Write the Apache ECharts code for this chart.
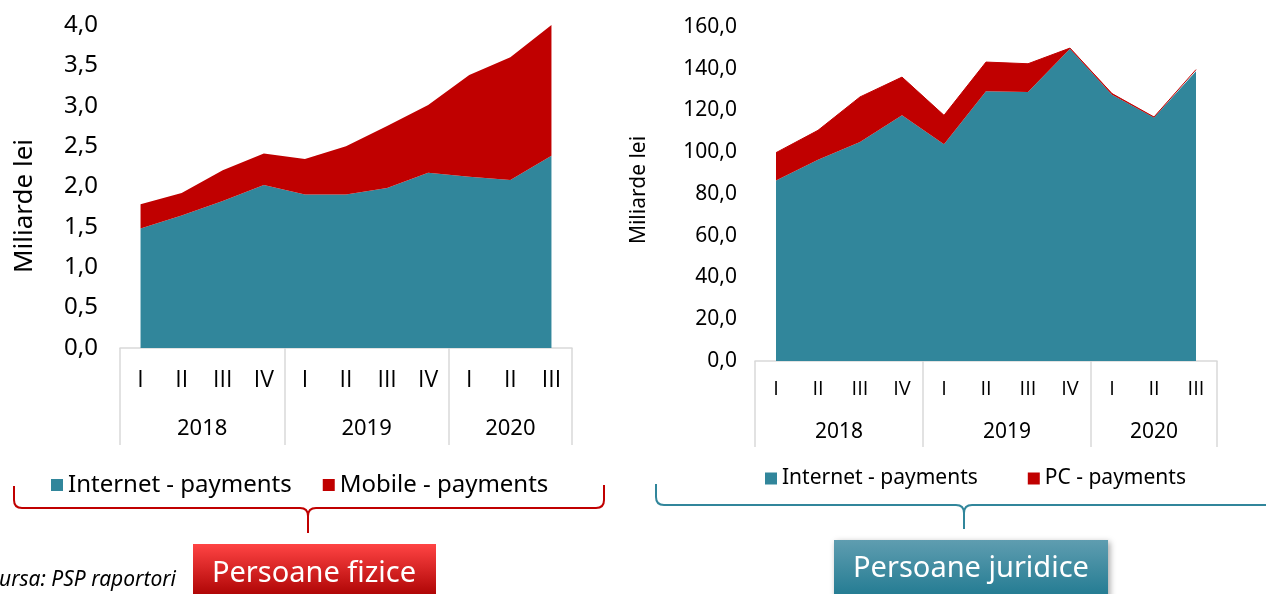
<!DOCTYPE html>
<html><head><meta charset="utf-8">
<script src="https://cdn.jsdelivr.net/npm/echarts@6/dist/echarts.min.js"></script>
<style>html,body{margin:0;padding:0;background:#fff}#c{width:1266px;height:594px}</style>
</head><body><div id="c"></div>
<script>
const quarters = ['I','II','III','IV','I','II','III','IV','I','II','III'];
const years = ['2018','2019','2020'];
const yearCenters = [2, 6, 9.5];
const groupEdges = [0, 4, 8, 11];
// Persoane fizice (Miliarde lei)
const fizInternet = [1.48,1.64,1.82,2.02,1.90,1.90,1.98,2.17,2.12,2.08,2.38];
const fizMobile   = [0.30,0.28,0.38,0.39,0.44,0.60,0.77,0.84,1.26,1.52,1.62];
// Persoane juridice (Miliarde lei)
const jurInternet = [86.5,96.4,104.9,117.7,103.8,129.2,128.9,149.6,127.6,116.6,138.8];
const jurPC       = [13.3,14.1,21.6,18.3,13.9,14.0,13.5,0.3,0.5,0.3,0.8];

const TEAL = '#31869b', RED = '#c00000', GRID = '#d9d9d9';
const FONT = 'Noto Sans';
const QFONT = 'Open Sans';
const fmt = v => v.toFixed(1).replace('.', ',');
function yearFmt(v){ const i = yearCenters.indexOf(v); return i >= 0 ? years[i] : ''; }
function lin(c1, c2){ return { type: 'linear', x: 0, y: 0, x2: 0, y2: 1, colorStops: [{offset:0,color:c1},{offset:1,color:c2}] }; }

// curly bracket built from lines and quadratic curves
function bracket(x0, yTop, yMid, xm, yTip, x1, yTop2, color){
  const r = 8, st = { stroke: color, lineWidth: 2, fill: null };
  const els = [
    { type: 'line', shape: { x1: x0, y1: yTop, x2: x0, y2: yMid - r } },
    { type: 'bezierCurve', shape: { x1: x0, y1: yMid - r, cpx1: x0, cpy1: yMid, x2: x0 + r, y2: yMid } },
    { type: 'line', shape: { x1: x0 + r, y1: yMid, x2: xm - r, y2: yMid } },
    { type: 'bezierCurve', shape: { x1: xm - r, y1: yMid, cpx1: xm, cpy1: yMid, x2: xm, y2: yMid + r } },
    { type: 'bezierCurve', shape: { x1: xm + r, y1: yMid, cpx1: xm, cpy1: yMid, x2: xm, y2: yMid + r } },
    { type: 'line', shape: { x1: xm, y1: yMid + r, x2: xm, y2: yTip } }
  ];
  if (yTop2 != null) {
    els.push({ type: 'line', shape: { x1: xm + r, y1: yMid, x2: x1 - r, y2: yMid } });
    els.push({ type: 'bezierCurve', shape: { x1: x1 - r, y1: yMid, cpx1: x1, cpy1: yMid, x2: x1, y2: yMid - r } });
    els.push({ type: 'line', shape: { x1: x1, y1: yMid - r, x2: x1, y2: yTop2 } });
  } else {
    els.push({ type: 'line', shape: { x1: xm + r, y1: yMid, x2: x1, y2: yMid } });
  }
  els.forEach(e => e.style = st);
  return els;
}

const chart = echarts.init(document.getElementById('c'));
chart.setOption({
  animation: false,
  textStyle: { fontFamily: FONT, color: '#000' },
  grid: [
    { left: 120, right: 694, top: 25, bottom: 246 },
    { left: 755, right: 49, top: 27, bottom: 233 }
  ],
  xAxis: [
    { gridIndex: 0, type: 'category', data: quarters, boundaryGap: true, position: 'bottom', offset: 0,
      axisLine: { show: true, lineStyle: { color: GRID, width: 1.5 } }, axisTick: { show: false },
      axisLabel: { interval: 0, fontSize: 23, margin: 21, color: '#000', fontFamily: QFONT } },
    { gridIndex: 0, type: 'value', min: 0, max: 11, position: 'bottom', offset: 0,
      axisLine: { show: false }, splitLine: { show: false },
      axisTick: { show: true, customValues: groupEdges, length: 97, lineStyle: { color: GRID, width: 1.5 } },
      axisLabel: { customValues: yearCenters, formatter: yearFmt, fontSize: 22, margin: 70, color: '#000', fontFamily: FONT } },
    { gridIndex: 1, type: 'category', data: quarters, boundaryGap: true, position: 'bottom', offset: 0,
      axisLine: { show: true, lineStyle: { color: GRID, width: 1.5 } }, axisTick: { show: false },
      axisLabel: { interval: 0, fontSize: 20, margin: 18, color: '#000', fontFamily: QFONT } },
    { gridIndex: 1, type: 'value', min: 0, max: 11, position: 'bottom', offset: 0,
      axisLine: { show: false }, splitLine: { show: false },
      axisTick: { show: true, customValues: groupEdges, length: 86, lineStyle: { color: GRID, width: 1.5 } },
      axisLabel: { customValues: yearCenters, formatter: yearFmt, fontSize: 21, margin: 61, color: '#000', fontFamily: FONT } }
  ],
  yAxis: [
    { gridIndex: 0, type: 'value', min: 0, max: 4, interval: 0.5,
      name: 'Miliarde lei', nameLocation: 'middle', nameGap: 82, nameRotate: 90,
      nameTextStyle: { fontSize: 26, color: '#000', fontFamily: FONT, padding: [0, 39, 0, 0] },
      axisLine: { show: false }, axisTick: { show: false }, splitLine: { show: false },
      axisLabel: { formatter: fmt, fontSize: 24, margin: 22, color: '#000', fontFamily: FONT } },
    { gridIndex: 1, type: 'value', min: 0, max: 160, interval: 20,
      name: 'Miliarde lei', nameLocation: 'middle', nameGap: 105, nameRotate: 90,
      nameTextStyle: { fontSize: 21, color: '#000', fontFamily: FONT, padding: [0, 0, 0, 8] },
      axisLine: { show: false }, axisTick: { show: false }, splitLine: { show: false },
      axisLabel: { formatter: fmt, fontSize: 21, margin: 18, color: '#000', fontFamily: FONT } }
  ],
  legend: [
    { left: 46, top: 468, icon: 'rect', itemWidth: 12, itemHeight: 12, itemGap: 31,
      data: ['Internet - payments', 'Mobile - payments'],
      textStyle: { fontSize: 24, color: '#000', fontFamily: FONT } },
    { left: 760, top: 463, icon: 'rect', itemWidth: 12, itemHeight: 12, itemGap: 50,
      data: ['Internet - payments', 'PC - payments'],
      textStyle: { fontSize: 21, color: '#000', fontFamily: FONT } }
  ],
  series: [
    { name: 'Internet - payments', type: 'line', stack: 'f', xAxisIndex: 0, yAxisIndex: 0, data: fizInternet,
      symbol: 'none', lineStyle: { width: 0 }, itemStyle: { color: TEAL }, areaStyle: { color: TEAL, opacity: 1 } },
    { name: 'Mobile - payments', type: 'line', stack: 'f', xAxisIndex: 0, yAxisIndex: 0, data: fizMobile,
      symbol: 'none', lineStyle: { width: 0 }, itemStyle: { color: RED }, areaStyle: { color: RED, opacity: 1 } },
    { name: 'Internet - payments', type: 'line', stack: 'j', xAxisIndex: 2, yAxisIndex: 1, data: jurInternet,
      symbol: 'none', lineStyle: { width: 0 }, itemStyle: { color: TEAL }, areaStyle: { color: TEAL, opacity: 1 } },
    { name: 'PC - payments', type: 'line', stack: 'j', xAxisIndex: 2, yAxisIndex: 1, data: jurPC,
      symbol: 'none', lineStyle: { width: 1, color: RED }, itemStyle: { color: RED }, areaStyle: { color: RED, opacity: 1 } }
  ],
  graphic: [].concat(
    bracket(14, 486, 508, 308, 533, 604, 485, RED),
    bracket(656, 484, 505, 964, 529, 1270, null, TEAL),
    [
    { type: 'rect', shape: { x: 193, y: 544, width: 243, height: 55 },
      style: { fill: lin('#ff4444', '#a80000') } },
    { type: 'text', x: 314, y: 574, style: { text: 'Persoane fizice', fill: '#fff', fontSize: 29, fontFamily: FONT, align: 'center', verticalAlign: 'middle' } },
    { type: 'rect', shape: { x: 834, y: 540, width: 274, height: 60 },
      style: { fill: lin('#5f9db0', '#1f7990'), shadowBlur: 6, shadowColor: 'rgba(0,0,0,0.35)', shadowOffsetX: 2, shadowOffsetY: 2 } },
    { type: 'text', x: 971, y: 569, style: { text: 'Persoane juridice', fill: '#fff', fontSize: 29, fontFamily: FONT, align: 'center', verticalAlign: 'middle' } },
    { type: 'text', x: 176, y: 580, style: { text: 'Sursa: PSP raportori', fill: '#000', fontSize: 21, fontStyle: 'italic', fontFamily: FONT, align: 'right', verticalAlign: 'middle' } }
    ])
});
</script></body></html>
